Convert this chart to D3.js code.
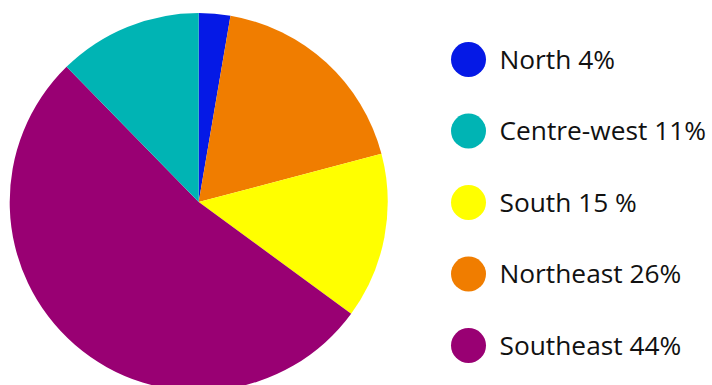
<!DOCTYPE html>
<html>
<head>
<meta charset="utf-8">
<script src="https://cdn.jsdelivr.net/npm/d3@7"></script>
<style>
  html, body { margin: 0; padding: 0; background: #fff; }
  svg { display: block; }
</style>
</head>
<body>
<svg id="chart" width="712" height="385"></svg>
<script>
// Slices, clockwise from 12 o'clock (as drawn)
const sliceRegions = ["North", "Northeast", "South", "Southeast", "Centre-west"];
const sliceValues  = [2.69, 18.2, 14.17, 52.6, 12.32];

// Legend entries (as printed)
const legendRegions = ["North", "Centre-west", "South", "Northeast", "Southeast"];
const legendLabels  = ["North 4%", "Centre-west 11%", "South 15 %", "Northeast 26%", "Southeast 44%"];

const regionColors = {
  "North": "#0519e6",
  "Centre-west": "#00b4b4",
  "South": "#ffff00",
  "Northeast": "#f07d00",
  "Southeast": "#990073"
};

const svg = d3.select("#chart");
const cx = 198.7, cy = 202, r = 189;

const pie = d3.pie().sort(null).value(d => d.v).startAngle(0).endAngle(2 * Math.PI);
const arc = d3.arc().innerRadius(0).outerRadius(r);
const data = sliceRegions.map((k, i) => ({ k, v: sliceValues[i] }));

svg.append("g")
  .attr("transform", `translate(${cx},${cy})`)
  .selectAll("path")
  .data(pie(data))
  .join("path")
  .attr("d", arc)
  .attr("fill", d => regionColors[d.data.k]);

const ly = d3.scalePoint().domain(legendRegions).range([59.5, 345.5]);
const lg = svg.append("g");
const items = lg.selectAll("g")
  .data(legendRegions)
  .join("g")
  .attr("transform", d => `translate(468.5,${ly(d)})`);
items.append("circle").attr("r", 17.5).attr("fill", d => regionColors[d]);
items.append("text")
  .attr("x", 31)
  .attr("y", 9)
  .attr("font-family", "'Open Sans', sans-serif")
  .attr("font-size", 26.3)
  .attr("fill", "#111")
  .text((d, i) => legendLabels[i]);
</script>
</body>
</html>
